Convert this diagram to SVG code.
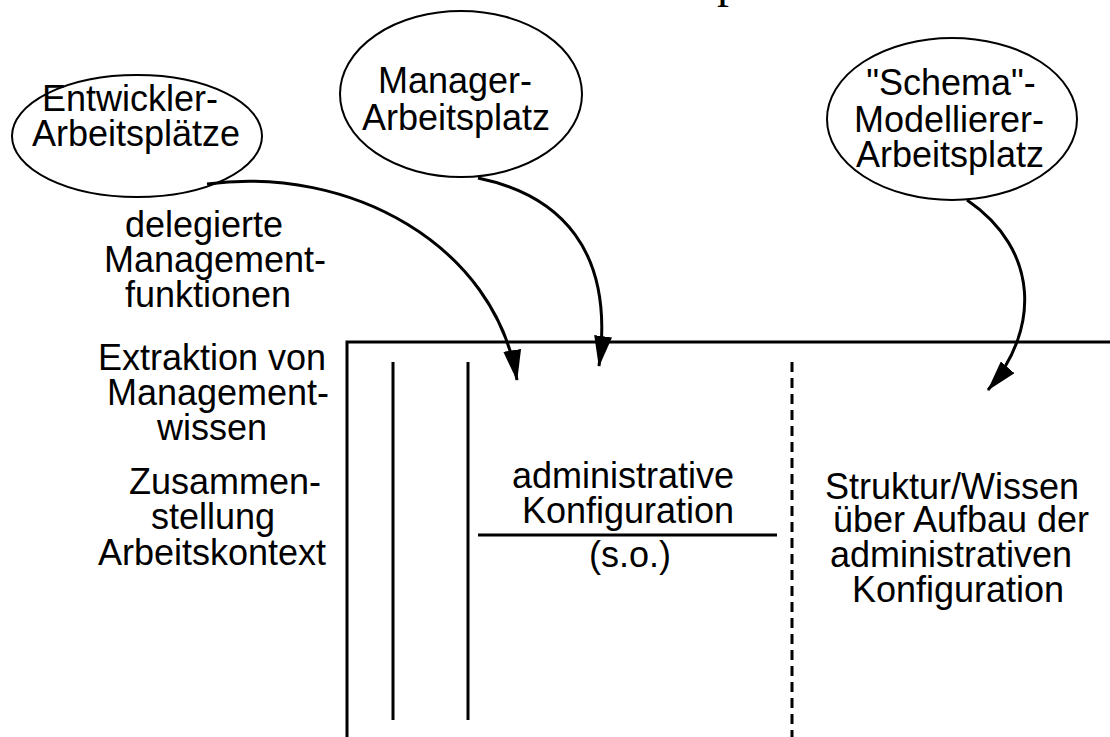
<svg xmlns="http://www.w3.org/2000/svg" width="1110" height="737" viewBox="0 0 1110 737">
<style>
  .t { font-family: "Liberation Sans", Arial, sans-serif; font-size: 36px; fill: #000; text-anchor: middle; }
  .ell { fill: #fff; stroke: #000; stroke-width: 2; }
  .ln { stroke: #000; fill: none; stroke-width: 3; }
  .arr { stroke: #000; fill: none; stroke-width: 3; marker-end: url(#ah); }
</style>
<defs>
  <marker id="ah" markerUnits="userSpaceOnUse" viewBox="0 0 31 18" markerWidth="31" markerHeight="18" refX="30" refY="9" orient="auto">
    <path d="M0,0 L31,9 L0,18 z" fill="#000"/>
  </marker>
</defs>
<rect x="0" y="0" width="1110" height="737" fill="#fff"/>
<text x="717" y="-3" style="font-family:'Liberation Serif',serif;font-size:48px;fill:#000">p</text>

<g id="frame">
  <path class="ln" d="M347,737 V342 H1110" stroke-width="2.2"/>
  <line class="ln" x1="393" y1="362" x2="393" y2="720"/>
  <line class="ln" x1="468" y1="362" x2="468" y2="720"/>
  <line class="ln" x1="792" y1="362" x2="792" y2="737" stroke-dasharray="10,6"/>
  <line class="ln" x1="478" y1="535" x2="777" y2="535" stroke-width="3.5"/>
</g>

<g id="node-entwickler">
  <ellipse class="ell" cx="137" cy="136" rx="125" ry="61"/>
  <text class="t"><tspan x="130" y="111">Entwickler-</tspan><tspan x="136" y="146">Arbeitsplätze</tspan></text>
</g>

<g id="node-manager">
  <ellipse class="ell" cx="461" cy="94" rx="121" ry="83"/>
  <text class="t"><tspan x="455" y="93">Manager-</tspan><tspan x="456" y="130">Arbeitsplatz</tspan></text>
</g>

<g id="node-schema">
  <ellipse class="ell" cx="952" cy="119" rx="125" ry="81"/>
  <text class="t"><tspan x="951" y="95">"Schema"-</tspan><tspan x="949" y="132">Modellierer-</tspan><tspan x="950" y="167">Arbeitsplatz</tspan></text>
</g>

<g id="labels-left">
  <text class="t"><tspan x="204" y="237">delegierte</tspan><tspan x="215" y="272">Management-</tspan><tspan x="208" y="307">funktionen</tspan></text>
  <text class="t"><tspan x="212" y="370">Extraktion von</tspan><tspan x="218" y="405">Management-</tspan><tspan x="212" y="440">wissen</tspan></text>
  <text class="t"><tspan x="225" y="494">Zusammen-</tspan><tspan x="213" y="529">stellung</tspan><tspan x="212" y="565">Arbeitskontext</tspan></text>
</g>

<g id="node-admin">
  <text class="t"><tspan x="623" y="488">administrative</tspan><tspan x="628" y="523">Konfiguration</tspan></text>
  <text class="t" x="630" y="567">(s.o.)</text>
</g>

<g id="node-struktur">
  <text class="t"><tspan x="952" y="499">Struktur/Wissen</tspan><tspan x="961" y="532">über Aufbau der</tspan><tspan x="951" y="567">administrativen</tspan><tspan x="958" y="602">Konfiguration</tspan></text>
</g>

<g id="connectors">
  <path class="arr" d="M207,184 C350,165 495,245 517,380"/>
  <path class="arr" d="M478,178 C560,195 615,250 599,366"/>
  <path class="arr" d="M967,200 C1040,250 1040,330 988,390"/>
</g>
</svg>
